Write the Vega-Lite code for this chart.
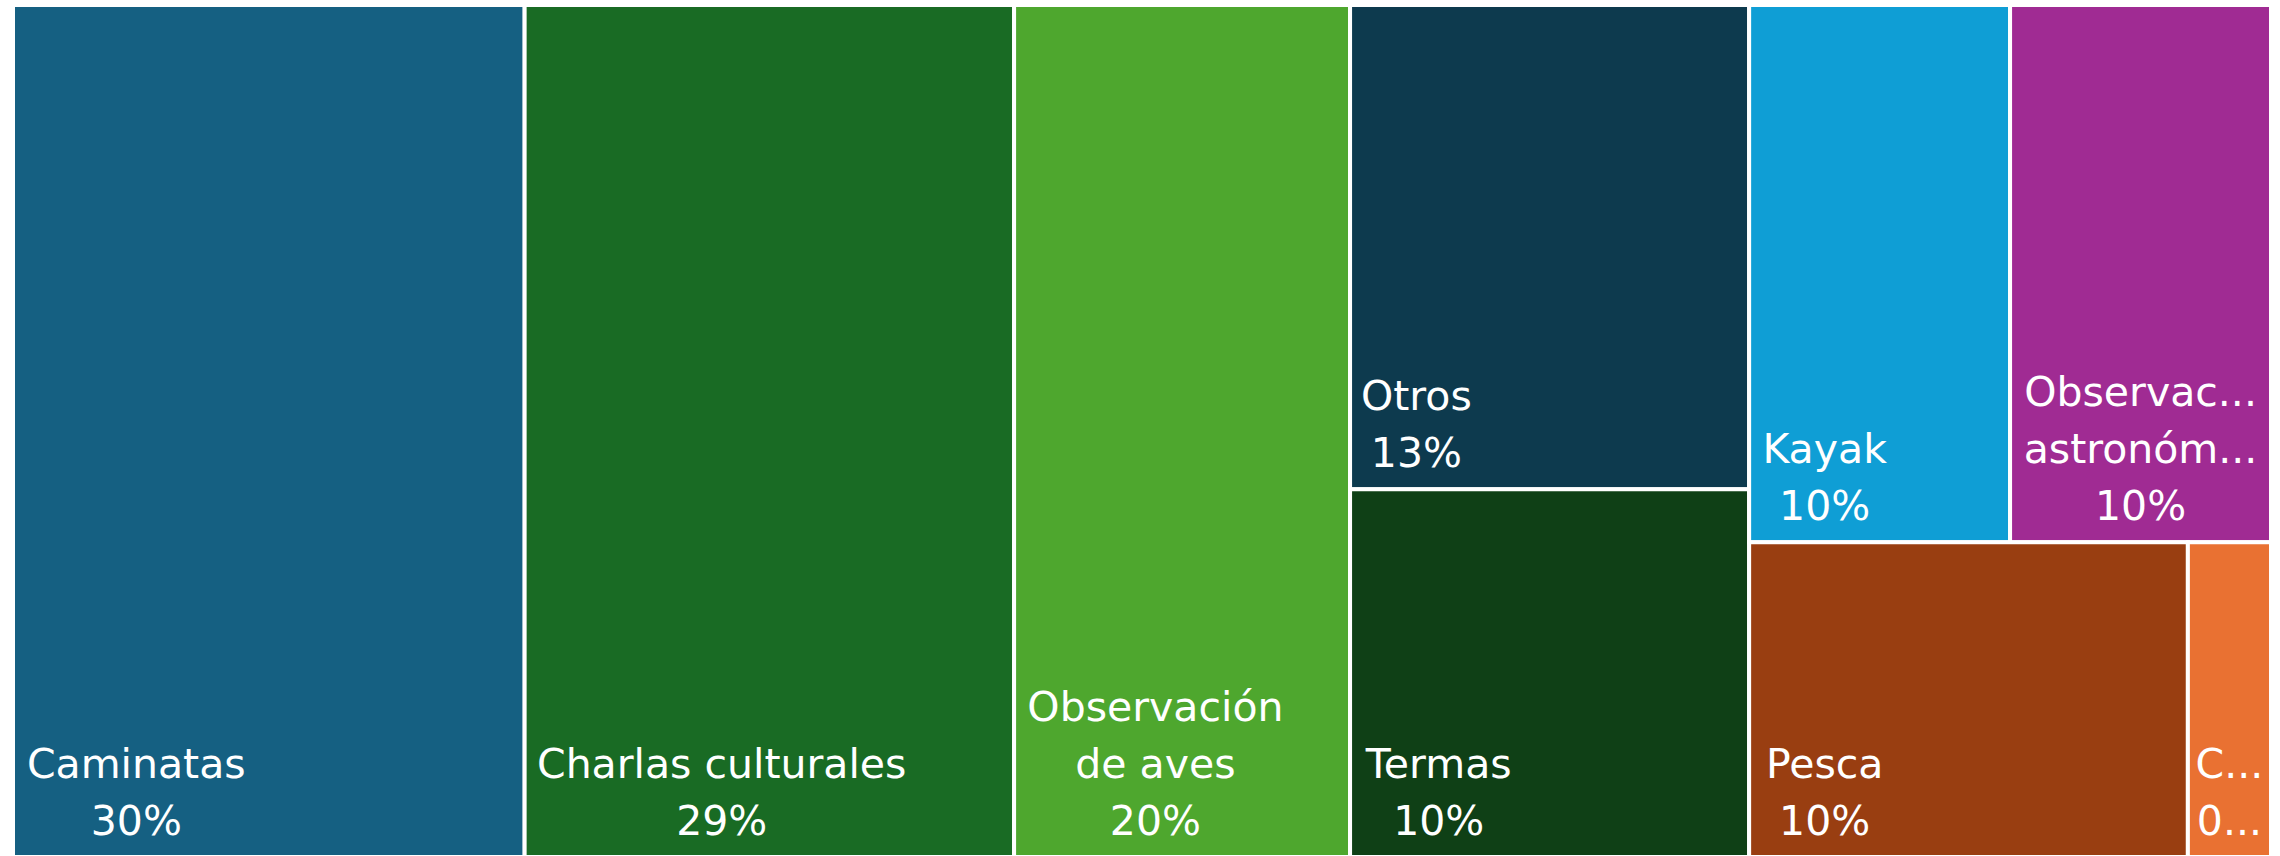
{
  "$schema": "https://vega.github.io/schema/vega-lite/v6.json",
  "width": 2258,
  "height": 852,
  "autosize": {"type": "none"},
  "padding": {"left": 13, "top": 5, "right": 9, "bottom": 0},
  "background": "white",
  "config": {"view": {"stroke": null}},
  "data": {
    "values": [
      {"actividad": "Caminatas", "valor": 0.300, "etiqueta": "30%", "columna": 1, "fila": 1},
      {"actividad": "Charlas culturales", "valor": 0.287, "etiqueta": "29%", "columna": 2, "fila": 1},
      {"actividad": "Observación de aves", "valor": 0.197, "etiqueta": "20%", "columna": 3, "fila": 1},
      {"actividad": "Otros", "valor": 0.133, "etiqueta": "13%", "columna": 4, "fila": 1},
      {"actividad": "Termas", "valor": 0.101, "etiqueta": "10%", "columna": 4, "fila": 2},
      {"actividad": "Kayak", "valor": 0.0965, "etiqueta": "10%", "columna": 5, "fila": 1},
      {"actividad": "Observación astronómica", "valor": 0.0965, "etiqueta": "10%", "columna": 5, "fila": 1},
      {"actividad": "Pesca", "valor": 0.095, "etiqueta": "10%", "columna": 5, "fila": 2},
      {"actividad": "Camping", "valor": 0.018, "etiqueta": "0,018", "columna": 5, "fila": 2}
    ]
  },
  "transform": [
    {"joinaggregate": [{"op": "sum", "field": "valor", "as": "total"}]},
    {"joinaggregate": [{"op": "sum", "field": "valor", "as": "sumaCol"}], "groupby": ["columna"]},
    {"joinaggregate": [{"op": "sum", "field": "valor", "as": "sumaFila"}], "groupby": ["columna", "fila"]},
    {"window": [{"op": "sum", "field": "valor", "as": "finCol"}], "sort": [{"field": "columna"}], "frame": [null, 0]},
    {"window": [{"op": "sum", "field": "valor", "as": "finFila"}], "groupby": ["columna"], "sort": [{"field": "fila"}], "frame": [null, 0]},
    {"window": [{"op": "sum", "field": "valor", "as": "finCelda"}], "groupby": ["columna", "fila"], "sort": [{"field": "valor", "order": "descending"}, {"field": "actividad"}], "frame": [null, 0], "ignorePeers": true},
    {"calculate": "(datum.finCol - datum.sumaCol + datum.sumaCol * (datum.finCelda - datum.valor) / datum.sumaFila) / datum.total", "as": "x0"},
    {"calculate": "(datum.finCol - datum.sumaCol + datum.sumaCol * datum.finCelda / datum.sumaFila) / datum.total", "as": "x1"},
    {"calculate": "(datum.finFila - datum.sumaFila) / datum.sumaCol", "as": "y0"},
    {"calculate": "datum.finFila / datum.sumaCol", "as": "y1"},
    {"calculate": "(datum.x1 - datum.x0) * 2258", "as": "pxw"},
    {"calculate": "datum.pxw < 150 ? 3 : 11", "as": "pad"},
    {"calculate": "datum.pxw - 4 - 2 * datum.pad", "as": "limite"},
    {"calculate": "41 * (0.61 * length(datum.actividad) - 0.31 * (length(datum.actividad) - length(replace(datum.actividad, regexp('[ilrtfjí ]', 'g'), ''))) + 0.34 * (length(datum.actividad) - length(replace(datum.actividad, regexp('[mwMW%]', 'g'), ''))) + 0.17 * (length(datum.actividad) - length(replace(datum.actividad, regexp('[OCGQD]', 'g'), ''))))", "as": "wNombre"},
    {"calculate": "indexof(datum.actividad, ' ')", "as": "esp"},
    {"calculate": "datum.wNombre > datum.limite && datum.esp > 0", "as": "partir"},
    {"calculate": "datum.partir ? substring(datum.actividad, 0, datum.esp) : datum.actividad", "as": "l1"},
    {"calculate": "datum.partir ? substring(datum.actividad, datum.esp + 1) : ''", "as": "l2"},
    {"calculate": "41 * (0.61 * length(datum.l1) - 0.31 * (length(datum.l1) - length(replace(datum.l1, regexp('[ilrtfjí ]', 'g'), ''))) + 0.34 * (length(datum.l1) - length(replace(datum.l1, regexp('[mwMW%]', 'g'), ''))) + 0.17 * (length(datum.l1) - length(replace(datum.l1, regexp('[OCGQD]', 'g'), ''))))", "as": "w1"},
    {"calculate": "41 * (0.61 * length(datum.l2) - 0.31 * (length(datum.l2) - length(replace(datum.l2, regexp('[ilrtfjí ]', 'g'), ''))) + 0.34 * (length(datum.l2) - length(replace(datum.l2, regexp('[mwMW%]', 'g'), ''))) + 0.17 * (length(datum.l2) - length(replace(datum.l2, regexp('[OCGQD]', 'g'), ''))))", "as": "w2"},
    {"calculate": "41 * (0.61 * length(datum.etiqueta) - 0.31 * (length(datum.etiqueta) - length(replace(datum.etiqueta, regexp('[ilrtfjí ]', 'g'), ''))) + 0.34 * (length(datum.etiqueta) - length(replace(datum.etiqueta, regexp('[mwMW%]', 'g'), ''))) + 0.17 * (length(datum.etiqueta) - length(replace(datum.etiqueta, regexp('[OCGQD]', 'g'), ''))))", "as": "w3"},
    {"calculate": "min(max(datum.w1, datum.w2, datum.w3), datum.limite)", "as": "ancho"},
    {"calculate": "datum.x0 + (2 + datum.pad + datum.ancho / 2) / 2258", "as": "xt"},
    {"calculate": "datum.partir ? [datum.l1, datum.l2, datum.etiqueta] : [datum.l1, datum.etiqueta]", "as": "lineas"},
    {"calculate": "datum.y1 - (length(datum.lineas) - 1) * 57 / 852", "as": "yt"}
  ],
  "encoding": {
    "y": {"field": "y0", "type": "quantitative", "scale": {"domain": [0, 1], "reverse": true, "nice": false, "zero": false}, "axis": null}
  },
  "layer": [
    {
      "mark": {"type": "rect", "stroke": "white", "strokeWidth": 4},
      "encoding": {
        "x": {"field": "x0", "type": "quantitative", "scale": {"domain": [0, 1], "nice": false, "zero": false}, "axis": null},
        "x2": {"field": "x1"},
        "y2": {"field": "y1"},
        "color": {
          "field": "actividad",
          "type": "nominal",
          "scale": {
            "domain": ["Caminatas", "Camping", "Charlas culturales", "Kayak", "Observación astronómica", "Observación de aves", "Otros", "Pesca", "Termas"],
            "range": ["#156082", "#E97132", "#196B24", "#0F9ED5", "#A02B93", "#4EA72E", "#0D3A4E", "#993E11", "#0F4016"]
          },
          "legend": null
        }
      }
    },
    {
      "mark": {
        "type": "text",
        "align": "center",
        "baseline": "bottom",
        "dy": -13,
        "font": "DejaVu Sans",
        "fontSize": 41,
        "lineHeight": 57,
        "color": "white",
        "ellipsis": "...",
        "limit": {"expr": "datum.limite"}
      },
      "encoding": {
        "x": {"field": "xt", "type": "quantitative", "scale": {"domain": [0, 1], "nice": false, "zero": false}, "axis": null},
        "y": {"field": "yt", "type": "quantitative"},
        "text": {"field": "lineas", "type": "nominal"}
      }
    }
  ]
}
